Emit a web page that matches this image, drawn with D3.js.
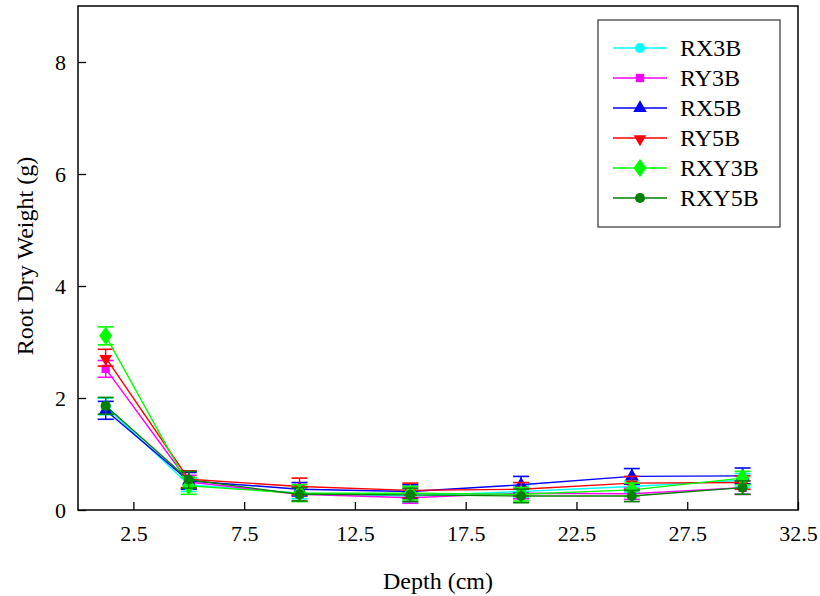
<!DOCTYPE html>
<html>
<head>
<meta charset="utf-8">
<script src="https://cdn.jsdelivr.net/npm/d3@7"></script>
</head>
<body style="margin:0">
<svg id="chart" width="820" height="596"></svg>
<script>
// Sampling depths (cm)
const depths = [1.25, 5, 10, 15, 20, 25, 30];

// Root dry weight (g) per treatment, with error bar half-widths
const RX3B  = [1.85, 0.45, 0.30, 0.25, 0.33, 0.42, 0.53];
const RY3B  = [2.52, 0.50, 0.28, 0.22, 0.30, 0.29, 0.40];
const RX5B  = [1.78, 0.52, 0.37, 0.33, 0.45, 0.60, 0.61];
const RY5B  = [2.72, 0.55, 0.42, 0.35, 0.37, 0.48, 0.49];
const RXY3B = [3.11, 0.43, 0.30, 0.30, 0.28, 0.36, 0.57];
const RXY5B = [1.86, 0.54, 0.28, 0.27, 0.25, 0.25, 0.40];

const errRX3B  = [0.15, 0.12, 0.10, 0.12, 0.10, 0.10, 0.12];
const errRY3B  = [0.15, 0.12, 0.12, 0.10, 0.10, 0.10, 0.12];
const errRX5B  = [0.16, 0.15, 0.12, 0.12, 0.15, 0.14, 0.14];
const errRY5B  = [0.15, 0.15, 0.15, 0.13, 0.12, 0.12, 0.12];
const errRXY3B = [0.16, 0.15, 0.15, 0.12, 0.12, 0.12, 0.12];
const errRXY5B = [0.15, 0.15, 0.12, 0.12, 0.12, 0.10, 0.12];

const xTicks = [2.5, 7.5, 12.5, 17.5, 22.5, 27.5, 32.5];
const yTicks = [0, 2, 4, 6, 8];

const seriesNames = ["RX3B", "RY3B", "RX5B", "RY5B", "RXY3B", "RXY5B"];
const seriesValues = [RX3B, RY3B, RX5B, RY5B, RXY3B, RXY5B];
const seriesErrors = [errRX3B, errRY3B, errRX5B, errRY5B, errRXY3B, errRXY5B];
const colors = ["#00ffff", "#ff00ff", "#0000ff", "#ff0000", "#00ff00", "#008000"];
const symbols = [d3.symbolCircle, d3.symbolSquare, d3.symbolTriangle, "down", d3.symbolDiamond, d3.symbolCircle];

const FONT = '"Liberation Serif", "Times New Roman", Tinos, serif';

const svg = d3.select("#chart").style("font-family", FONT);
const plotLeft = 78, plotRight = 798, plotTop = 6, plotBottom = 510;

const x = d3.scaleLinear().domain([0, 32.5]).range([plotLeft, plotRight]);
const y = d3.scaleLinear().domain([0, 9]).range([plotBottom, plotTop]);

function markerPath(sym) {
  if (sym === "down") {
    return d3.symbol(d3.symbolTriangle).size(70)();
  }
  const size = sym === d3.symbolDiamond ? 95 : (sym === d3.symbolSquare ? 70 : 80);
  return d3.symbol(sym).size(size)();
}
function markerTransform(sym, px, py) {
  if (sym === "down") return `translate(${px},${py + 1}) rotate(180)`;
  if (sym === d3.symbolDiamond) return `translate(${px},${py}) scale(1.25,1)`;
  return `translate(${px},${py})`;
}

// Series: lines, error bars, markers
const plot = svg.append("g");
seriesNames.forEach((name, i) => {
  const pts = depths.map((d, j) => ({ x: d, y: seriesValues[i][j], e: seriesErrors[i][j] }));
  const g = plot.append("g");
  g.append("path")
    .datum(pts)
    .attr("fill", "none")
    .attr("stroke", colors[i])
    .attr("stroke-width", 1.4)
    .attr("d", d3.line().x(d => x(d.x)).y(d => y(d.y)));
  const eb = g.selectAll(".eb").data(pts).enter().append("g");
  eb.append("line")
    .attr("x1", d => x(d.x)).attr("x2", d => x(d.x))
    .attr("y1", d => y(d.y - d.e)).attr("y2", d => y(d.y + d.e))
    .attr("stroke", colors[i]).attr("stroke-width", 1.4);
  [-1, 1].forEach(s => {
    eb.append("line")
      .attr("x1", d => x(d.x) - 8).attr("x2", d => x(d.x) + 8)
      .attr("y1", d => y(d.y + s * d.e)).attr("y2", d => y(d.y + s * d.e))
      .attr("stroke", colors[i]).attr("stroke-width", 1.6);
  });
  g.selectAll(".mk").data(pts).enter().append("path")
    .attr("d", markerPath(symbols[i]))
    .attr("transform", d => markerTransform(symbols[i], x(d.x), y(d.y)))
    .attr("fill", colors[i]);
});

// Axes with inward ticks
const xAxis = svg.append("g")
  .attr("transform", `translate(0,${plotBottom})`)
  .call(d3.axisBottom(x).tickValues(xTicks).tickSizeInner(-8).tickSizeOuter(0).tickPadding(15).tickFormat(d3.format(".1f")));
const yAxis = svg.append("g")
  .attr("transform", `translate(${plotLeft},0)`)
  .call(d3.axisLeft(y).tickValues(yTicks).tickSizeInner(-8).tickSizeOuter(0).tickPadding(12).tickFormat(d3.format("d")));
[xAxis, yAxis].forEach(a => {
  a.attr("font-family", null).attr("font-size", null);
  a.select(".domain").remove();
  a.selectAll(".tick line").attr("stroke", "#000").attr("stroke-width", 1.3);
  a.selectAll(".tick text")
    .style("font-family", FONT).attr("font-size", 22).attr("fill", "#000");
});

// Frame
svg.append("rect")
  .attr("x", plotLeft).attr("y", plotTop)
  .attr("width", plotRight - plotLeft).attr("height", plotBottom - plotTop)
  .attr("fill", "none").attr("stroke", "#000").attr("stroke-width", 1.5);

// Axis titles
svg.append("text")
  .attr("x", (plotLeft + plotRight) / 2).attr("y", 589)
  .attr("text-anchor", "middle")
  .style("font-family", FONT).attr("font-size", 24)
  .text("Depth (cm)");
svg.append("text")
  .attr("transform", `translate(33,${(plotTop + plotBottom) / 2 - 2}) rotate(-90)`)
  .attr("text-anchor", "middle")
  .style("font-family", FONT).attr("font-size", 24)
  .text("Root Dry Weight (g)");

// Legend
const lg = svg.append("g");
lg.append("rect")
  .attr("x", 598).attr("y", 20).attr("width", 182).attr("height", 207)
  .attr("fill", "#fff").attr("stroke", "#333").attr("stroke-width", 1.2);
seriesNames.forEach((name, i) => {
  const ly = 48 + i * 30;
  lg.append("line")
    .attr("x1", 613).attr("x2", 667).attr("y1", ly).attr("y2", ly)
    .attr("stroke", colors[i]).attr("stroke-width", 1.4);
  lg.append("path")
    .attr("d", markerPath(symbols[i]))
    .attr("transform", markerTransform(symbols[i], 640, ly))
    .attr("fill", colors[i]);
  lg.append("text")
    .attr("x", 680).attr("y", ly + 8)
    .style("font-family", FONT).attr("font-size", 24)
    .text(name);
});
</script>
</body>
</html>
